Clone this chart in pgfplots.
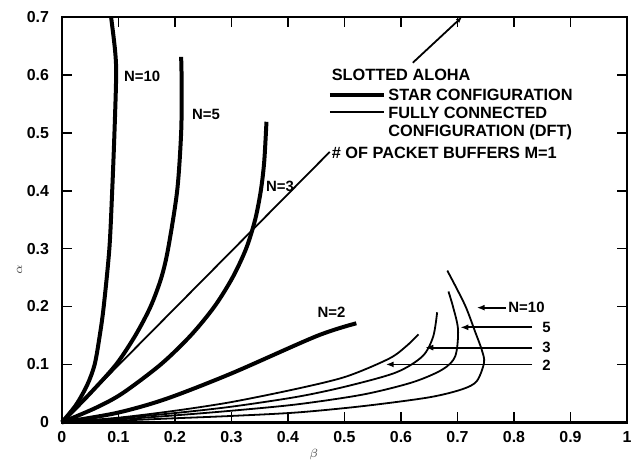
\documentclass[border=0pt]{standalone}
\usepackage{fontspec}
\setmainfont{Liberation Sans}
\usepackage{pgfplots}
\pgfplotsset{compat=1.18}
\usetikzlibrary{arrows.meta}

\begin{document}
\begin{tikzpicture}
\begin{axis}[
    name=ax,
    scale only axis,
    width=283bp, height=203bp,
    xmin=0, xmax=1, ymin=0, ymax=0.7,
    xtick={0,0.1,...,1.0},
    xticklabels={0,0.1,0.2,0.3,0.4,0.5,0.6,0.7,0.8,0.9,1},
    ytick={0,0.1,...,0.7},
    yticklabels={0,0.1,0.2,0.3,0.4,0.5,0.6,0.7},
    tick align=inside,
    major tick length=5bp,
    tick style={line width=0.9bp, black},
    axis line style={line width=1.2bp},
    tick label style={font=\bfseries\fontsize{8}{9}\selectfont},
    xticklabel style={yshift=-1bp},
    yticklabel style={xshift=-3bp},
    clip=false,
]
% star configuration (thick)
\addplot[line width=2bp, smooth] coordinates {
  (0,0)(0.025,0.03)(0.045,0.065)(0.058,0.1)(0.067,0.15)(0.074,0.2)(0.084,0.3)(0.089,0.4)(0.093,0.5)(0.096,0.6)(0.094,0.643)(0.087,0.7)};
\addplot[line width=2bp, smooth] coordinates {
  (0,0)(0.05,0.05)(0.096,0.1)(0.130,0.15)(0.157,0.2)(0.176,0.25)(0.188,0.3)(0.204,0.4)(0.211,0.5)(0.212,0.58)(0.211,0.631)};
\addplot[line width=2bp, smooth] coordinates {
  (0,0)(0.06,0.025)(0.107,0.05)(0.175,0.1)(0.228,0.15)(0.270,0.2)(0.302,0.25)(0.326,0.3)(0.342,0.35)(0.352,0.4)(0.358,0.45)(0.362,0.519)};
\addplot[line width=2bp, smooth] coordinates {
  (0,0)(0.096,0.016)(0.183,0.04)(0.299,0.084)(0.451,0.149)(0.521,0.171)};
% fully connected configuration (thin)
\addplot[line width=0.9bp, smooth] coordinates {
  (0,0)(0.1,0.008)(0.2,0.02)(0.3,0.035)(0.416,0.058)(0.503,0.079)(0.579,0.110)(0.610,0.132)(0.631,0.152)};
\addplot[line width=0.9bp, smooth] coordinates {
  (0,0)(0.1,0.007)(0.2,0.016)(0.3,0.027)(0.416,0.044)(0.503,0.062)(0.591,0.086)(0.638,0.114)(0.657,0.148)(0.664,0.190)};
\addplot[line width=0.9bp, smooth] coordinates {
  (0,0)(0.1,0.005)(0.2,0.012)(0.3,0.020)(0.416,0.031)(0.533,0.048)(0.620,0.069)(0.673,0.091)(0.696,0.114)(0.701,0.160)(0.692,0.200)(0.684,0.226)};
\addplot[line width=0.9bp, smooth] coordinates {
  (0,0)(0.1,0.003)(0.2,0.007)(0.3,0.011)(0.416,0.017)(0.533,0.028)(0.649,0.043)(0.708,0.057)(0.734,0.071)(0.747,0.103)(0.743,0.125)(0.731,0.157)(0.713,0.203)(0.682,0.262)};
% slotted aloha line
\addplot[line width=0.9bp] coordinates {(0,0)(0.474,0.467)};
\addplot[line width=0.9bp, -{Latex[length=3bp,width=2.5bp]}] coordinates {(0.621,0.621)(0.708,0.700)};
% pointers
\addplot[line width=0.9bp, -{Latex[length=4bp,width=3bp]}] coordinates {(0.785,0.198)(0.734,0.198)};
\addplot[line width=0.9bp, -{Latex[length=4bp,width=3bp]}] coordinates {(0.832,0.164)(0.705,0.164)};
\addplot[line width=0.9bp, -{Latex[length=4bp,width=3bp]}] coordinates {(0.832,0.129)(0.643,0.129)};
\addplot[line width=0.9bp, -{Latex[length=4bp,width=3bp]}] coordinates {(0.832,0.100)(0.573,0.100)};

\begin{scope}[font=\bfseries\fontsize{7.5}{9}\selectfont]
\node at (axis cs:0.142,0.597) {N=10};
\node at (axis cs:0.255,0.531) {N=5};
\node at (axis cs:0.386,0.408) {N=3};
\node at (axis cs:0.477,0.190) {N=2};
\node[anchor=west, inner sep=1bp] at (axis cs:0.786,0.198) {N=10};
\node[anchor=west, inner sep=1bp] at (axis cs:0.846,0.164) {5};
\node[anchor=west, inner sep=1bp] at (axis cs:0.846,0.129) {3};
\node[anchor=west, inner sep=1bp] at (axis cs:0.846,0.098) {2};
\end{scope}
\begin{scope}[font=\bfseries\fontsize{8.2}{9}\selectfont]
\node[anchor=west, inner sep=0pt] at (axis cs:0.477,0.600) {SLOTTED ALOHA};
\draw[line width=2bp] (axis cs:0.474,0.566) -- (axis cs:0.570,0.566);
\node[anchor=west, inner sep=0pt] at (axis cs:0.577,0.566) {STAR CONFIGURATION};
\draw[line width=1bp] (axis cs:0.474,0.536) -- (axis cs:0.570,0.536);
\node[anchor=west, inner sep=0pt] at (axis cs:0.577,0.534) {FULLY CONNECTED};
\node[anchor=west, inner sep=0pt] at (axis cs:0.577,0.500) {CONFIGURATION (DFT)};
\node[anchor=west, inner sep=0pt] at (axis cs:0.477,0.466) {\# OF PACKET BUFFERS M=1};
\end{scope}
\node[rotate=90, font=\fontsize{6}{7}\selectfont, text=black!70] at (rel axis cs:-0.075,0.377) {$\alpha$};
\node[font=\fontsize{6}{7}\selectfont, text=black!70] at (rel axis cs:0.446,-0.079) {$\beta$};
\end{axis}
\pgfresetboundingbox
\path[use as bounding box] ([shift={(-31bp,-23.5bp)}]ax.south west) rectangle ([shift={(3.5bp,8.5bp)}]ax.north east);
\end{tikzpicture}
\end{document}
